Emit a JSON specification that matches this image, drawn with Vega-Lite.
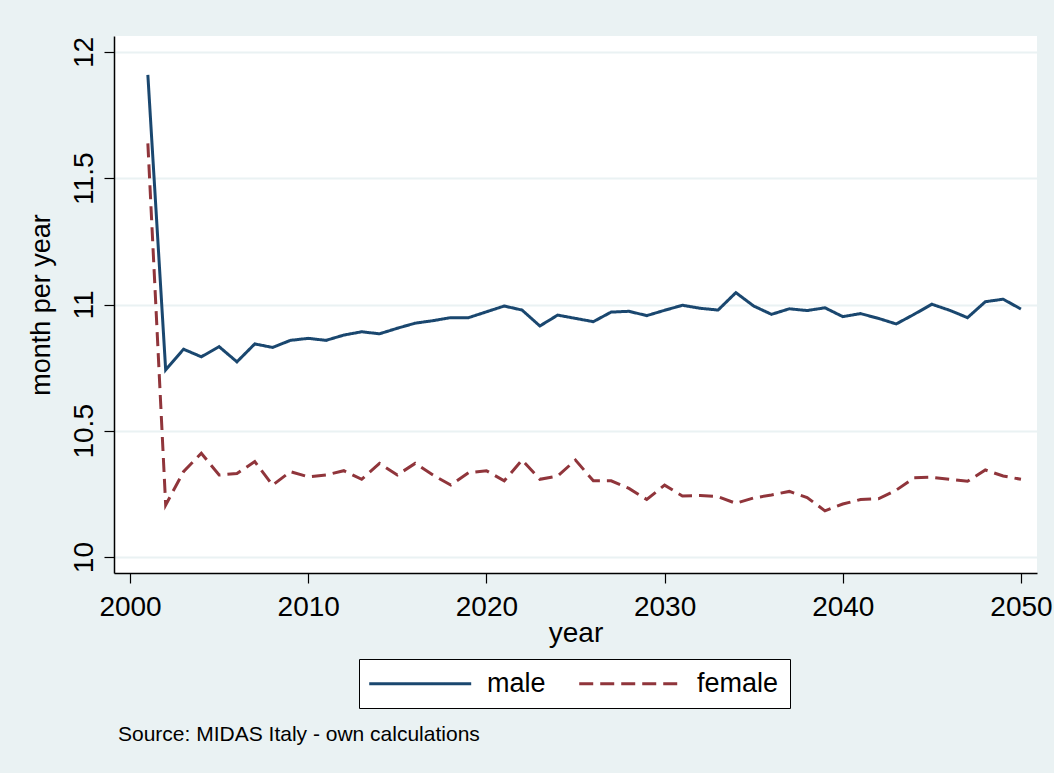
{
  "$schema": "https://vega.github.io/schema/vega-lite/v6.json",
  "autosize": "none",
  "width": 923,
  "height": 537,
  "padding": {"left": 114, "top": 36, "right": 17, "bottom": 200},
  "background": "#EAF2F3",
  "title": {
    "text": "Source: MIDAS Italy - own calculations",
    "orient": "bottom",
    "anchor": "start",
    "frame": "group",
    "font": "Liberation Sans",
    "fontSize": 21,
    "fontWeight": "normal",
    "color": "#000000",
    "dx": 4,
    "offset": 15
  },
  "config": {
    "view": {"stroke": null, "fill": "#FFFFFF"},
    "font": "Liberation Sans"
  },
  "data": {
    "values": [
      {"year": 2001, "sex": "male", "value": 11.909},
      {"year": 2002, "sex": "male", "value": 10.741},
      {"year": 2003, "sex": "male", "value": 10.823},
      {"year": 2004, "sex": "male", "value": 10.793},
      {"year": 2005, "sex": "male", "value": 10.833},
      {"year": 2006, "sex": "male", "value": 10.773},
      {"year": 2007, "sex": "male", "value": 10.844},
      {"year": 2008, "sex": "male", "value": 10.83},
      {"year": 2009, "sex": "male", "value": 10.858},
      {"year": 2010, "sex": "male", "value": 10.866},
      {"year": 2011, "sex": "male", "value": 10.858},
      {"year": 2012, "sex": "male", "value": 10.879},
      {"year": 2013, "sex": "male", "value": 10.892},
      {"year": 2014, "sex": "male", "value": 10.884},
      {"year": 2015, "sex": "male", "value": 10.906},
      {"year": 2016, "sex": "male", "value": 10.926},
      {"year": 2017, "sex": "male", "value": 10.936},
      {"year": 2018, "sex": "male", "value": 10.948},
      {"year": 2019, "sex": "male", "value": 10.948},
      {"year": 2020, "sex": "male", "value": 10.971},
      {"year": 2021, "sex": "male", "value": 10.994},
      {"year": 2022, "sex": "male", "value": 10.978},
      {"year": 2023, "sex": "male", "value": 10.915},
      {"year": 2024, "sex": "male", "value": 10.958},
      {"year": 2025, "sex": "male", "value": 10.945},
      {"year": 2026, "sex": "male", "value": 10.932},
      {"year": 2027, "sex": "male", "value": 10.97},
      {"year": 2028, "sex": "male", "value": 10.973},
      {"year": 2029, "sex": "male", "value": 10.956},
      {"year": 2030, "sex": "male", "value": 10.977},
      {"year": 2031, "sex": "male", "value": 10.997},
      {"year": 2032, "sex": "male", "value": 10.985},
      {"year": 2033, "sex": "male", "value": 10.978},
      {"year": 2034, "sex": "male", "value": 11.047},
      {"year": 2035, "sex": "male", "value": 10.994},
      {"year": 2036, "sex": "male", "value": 10.961},
      {"year": 2037, "sex": "male", "value": 10.983},
      {"year": 2038, "sex": "male", "value": 10.976},
      {"year": 2039, "sex": "male", "value": 10.987},
      {"year": 2040, "sex": "male", "value": 10.952},
      {"year": 2041, "sex": "male", "value": 10.964},
      {"year": 2042, "sex": "male", "value": 10.945},
      {"year": 2043, "sex": "male", "value": 10.923},
      {"year": 2044, "sex": "male", "value": 10.961},
      {"year": 2045, "sex": "male", "value": 11.001},
      {"year": 2046, "sex": "male", "value": 10.977},
      {"year": 2047, "sex": "male", "value": 10.948},
      {"year": 2048, "sex": "male", "value": 11.011},
      {"year": 2049, "sex": "male", "value": 11.021},
      {"year": 2050, "sex": "male", "value": 10.982},
      {"year": 2001, "sex": "female", "value": 11.638},
      {"year": 2002, "sex": "female", "value": 10.206},
      {"year": 2003, "sex": "female", "value": 10.338},
      {"year": 2004, "sex": "female", "value": 10.411},
      {"year": 2005, "sex": "female", "value": 10.325},
      {"year": 2006, "sex": "female", "value": 10.331},
      {"year": 2007, "sex": "female", "value": 10.378},
      {"year": 2008, "sex": "female", "value": 10.285},
      {"year": 2009, "sex": "female", "value": 10.338},
      {"year": 2010, "sex": "female", "value": 10.318},
      {"year": 2011, "sex": "female", "value": 10.325},
      {"year": 2012, "sex": "female", "value": 10.342},
      {"year": 2013, "sex": "female", "value": 10.308},
      {"year": 2014, "sex": "female", "value": 10.371},
      {"year": 2015, "sex": "female", "value": 10.325},
      {"year": 2016, "sex": "female", "value": 10.371},
      {"year": 2017, "sex": "female", "value": 10.325},
      {"year": 2018, "sex": "female", "value": 10.285},
      {"year": 2019, "sex": "female", "value": 10.334},
      {"year": 2020, "sex": "female", "value": 10.342},
      {"year": 2021, "sex": "female", "value": 10.302},
      {"year": 2022, "sex": "female", "value": 10.384},
      {"year": 2023, "sex": "female", "value": 10.308},
      {"year": 2024, "sex": "female", "value": 10.321},
      {"year": 2025, "sex": "female", "value": 10.384},
      {"year": 2026, "sex": "female", "value": 10.302},
      {"year": 2027, "sex": "female", "value": 10.302},
      {"year": 2028, "sex": "female", "value": 10.272},
      {"year": 2029, "sex": "female", "value": 10.228},
      {"year": 2030, "sex": "female", "value": 10.285},
      {"year": 2031, "sex": "female", "value": 10.242},
      {"year": 2032, "sex": "female", "value": 10.244},
      {"year": 2033, "sex": "female", "value": 10.239},
      {"year": 2034, "sex": "female", "value": 10.213},
      {"year": 2035, "sex": "female", "value": 10.234},
      {"year": 2036, "sex": "female", "value": 10.246},
      {"year": 2037, "sex": "female", "value": 10.26},
      {"year": 2038, "sex": "female", "value": 10.236},
      {"year": 2039, "sex": "female", "value": 10.183},
      {"year": 2040, "sex": "female", "value": 10.21},
      {"year": 2041, "sex": "female", "value": 10.228},
      {"year": 2042, "sex": "female", "value": 10.231},
      {"year": 2043, "sex": "female", "value": 10.265},
      {"year": 2044, "sex": "female", "value": 10.314},
      {"year": 2045, "sex": "female", "value": 10.316},
      {"year": 2046, "sex": "female", "value": 10.308},
      {"year": 2047, "sex": "female", "value": 10.3},
      {"year": 2048, "sex": "female", "value": 10.345},
      {"year": 2049, "sex": "female", "value": 10.321},
      {"year": 2050, "sex": "female", "value": 10.308}
    ]
  },
  "mark": {"type": "line", "strokeWidth": 3, "strokeJoin": "miter", "strokeCap": "butt"},
  "encoding": {
    "x": {
      "field": "year",
      "type": "quantitative",
      "scale": {"domain": [1999.1, 2050.9], "nice": false, "zero": false},
      "axis": {
        "title": "year",
        "values": [2000, 2010, 2020, 2030, 2040, 2050],
        "format": "d",
        "grid": false,
        "domainColor": "#000000",
        "domainWidth": 1.5,
        "tickColor": "#000000",
        "tickWidth": 1.2,
        "tickSize": 10,
        "labelPadding": 10,
        "labelFontSize": 28,
        "labelColor": "#000000",
        "labelFont": "Liberation Sans",
        "labelFlush": false,
        "titleFontSize": 28,
        "titleFontWeight": "normal",
        "titleColor": "#000000",
        "titleFont": "Liberation Sans",
        "titlePadding": -2
      }
    },
    "y": {
      "field": "value",
      "type": "quantitative",
      "scale": {"domain": [9.937, 12.063], "nice": false, "zero": false},
      "axis": {
        "title": "month per year",
        "values": [10, 10.5, 11, 11.5, 12],
        "format": "~g",
        "grid": true,
        "gridColor": "#EAF2F3",
        "gridWidth": 2,
        "domainColor": "#000000",
        "domainWidth": 1.5,
        "tickColor": "#000000",
        "tickWidth": 1.2,
        "tickSize": 10,
        "labelPadding": 12,
        "labelAngle": 270,
        "labelAlign": "center",
        "labelBaseline": "alphabetic",
        "labelFontSize": 28,
        "labelColor": "#000000",
        "labelFont": "Liberation Sans",
        "labelFlush": false,
        "titleFontSize": 27,
        "titleFontWeight": "normal",
        "titleColor": "#000000",
        "titleFont": "Liberation Sans",
        "titlePadding": 15
      }
    },
    "color": {
      "field": "sex",
      "type": "nominal",
      "scale": {"domain": ["male", "female"], "range": ["#1A476F", "#90353B"]},
      "legend": {
        "title": null,
        "orient": "none",
        "direction": "horizontal",
        "legendX": 245,
        "legendY": 623,
        "fillColor": "#FFFFFF",
        "strokeColor": "#000000",
        "padding": 11,
        "symbolType": "M-1.4,0H8.6",
        "symbolSize": 416,
        "symbolStrokeWidth": 3,
        "symbolFillColor": "transparent",
        "labelFontSize": 27,
        "labelFont": "Liberation Sans",
        "labelColor": "#000000",
        "labelOffset": 90,
        "columnPadding": 27
      }
    },
    "strokeDash": {
      "field": "sex",
      "type": "nominal",
      "scale": {"domain": ["male", "female"], "range": [[1, 0], [14, 7]]},
      "legend": {
        "title": null,
        "orient": "none",
        "direction": "horizontal",
        "legendX": 245,
        "legendY": 623,
        "fillColor": "#FFFFFF",
        "strokeColor": "#000000",
        "padding": 11,
        "symbolType": "M-1.4,0H8.6",
        "symbolSize": 416,
        "symbolStrokeWidth": 3,
        "symbolFillColor": "transparent",
        "labelFontSize": 27,
        "labelFont": "Liberation Sans",
        "labelColor": "#000000",
        "labelOffset": 90,
        "columnPadding": 27
      }
    }
  }
}
